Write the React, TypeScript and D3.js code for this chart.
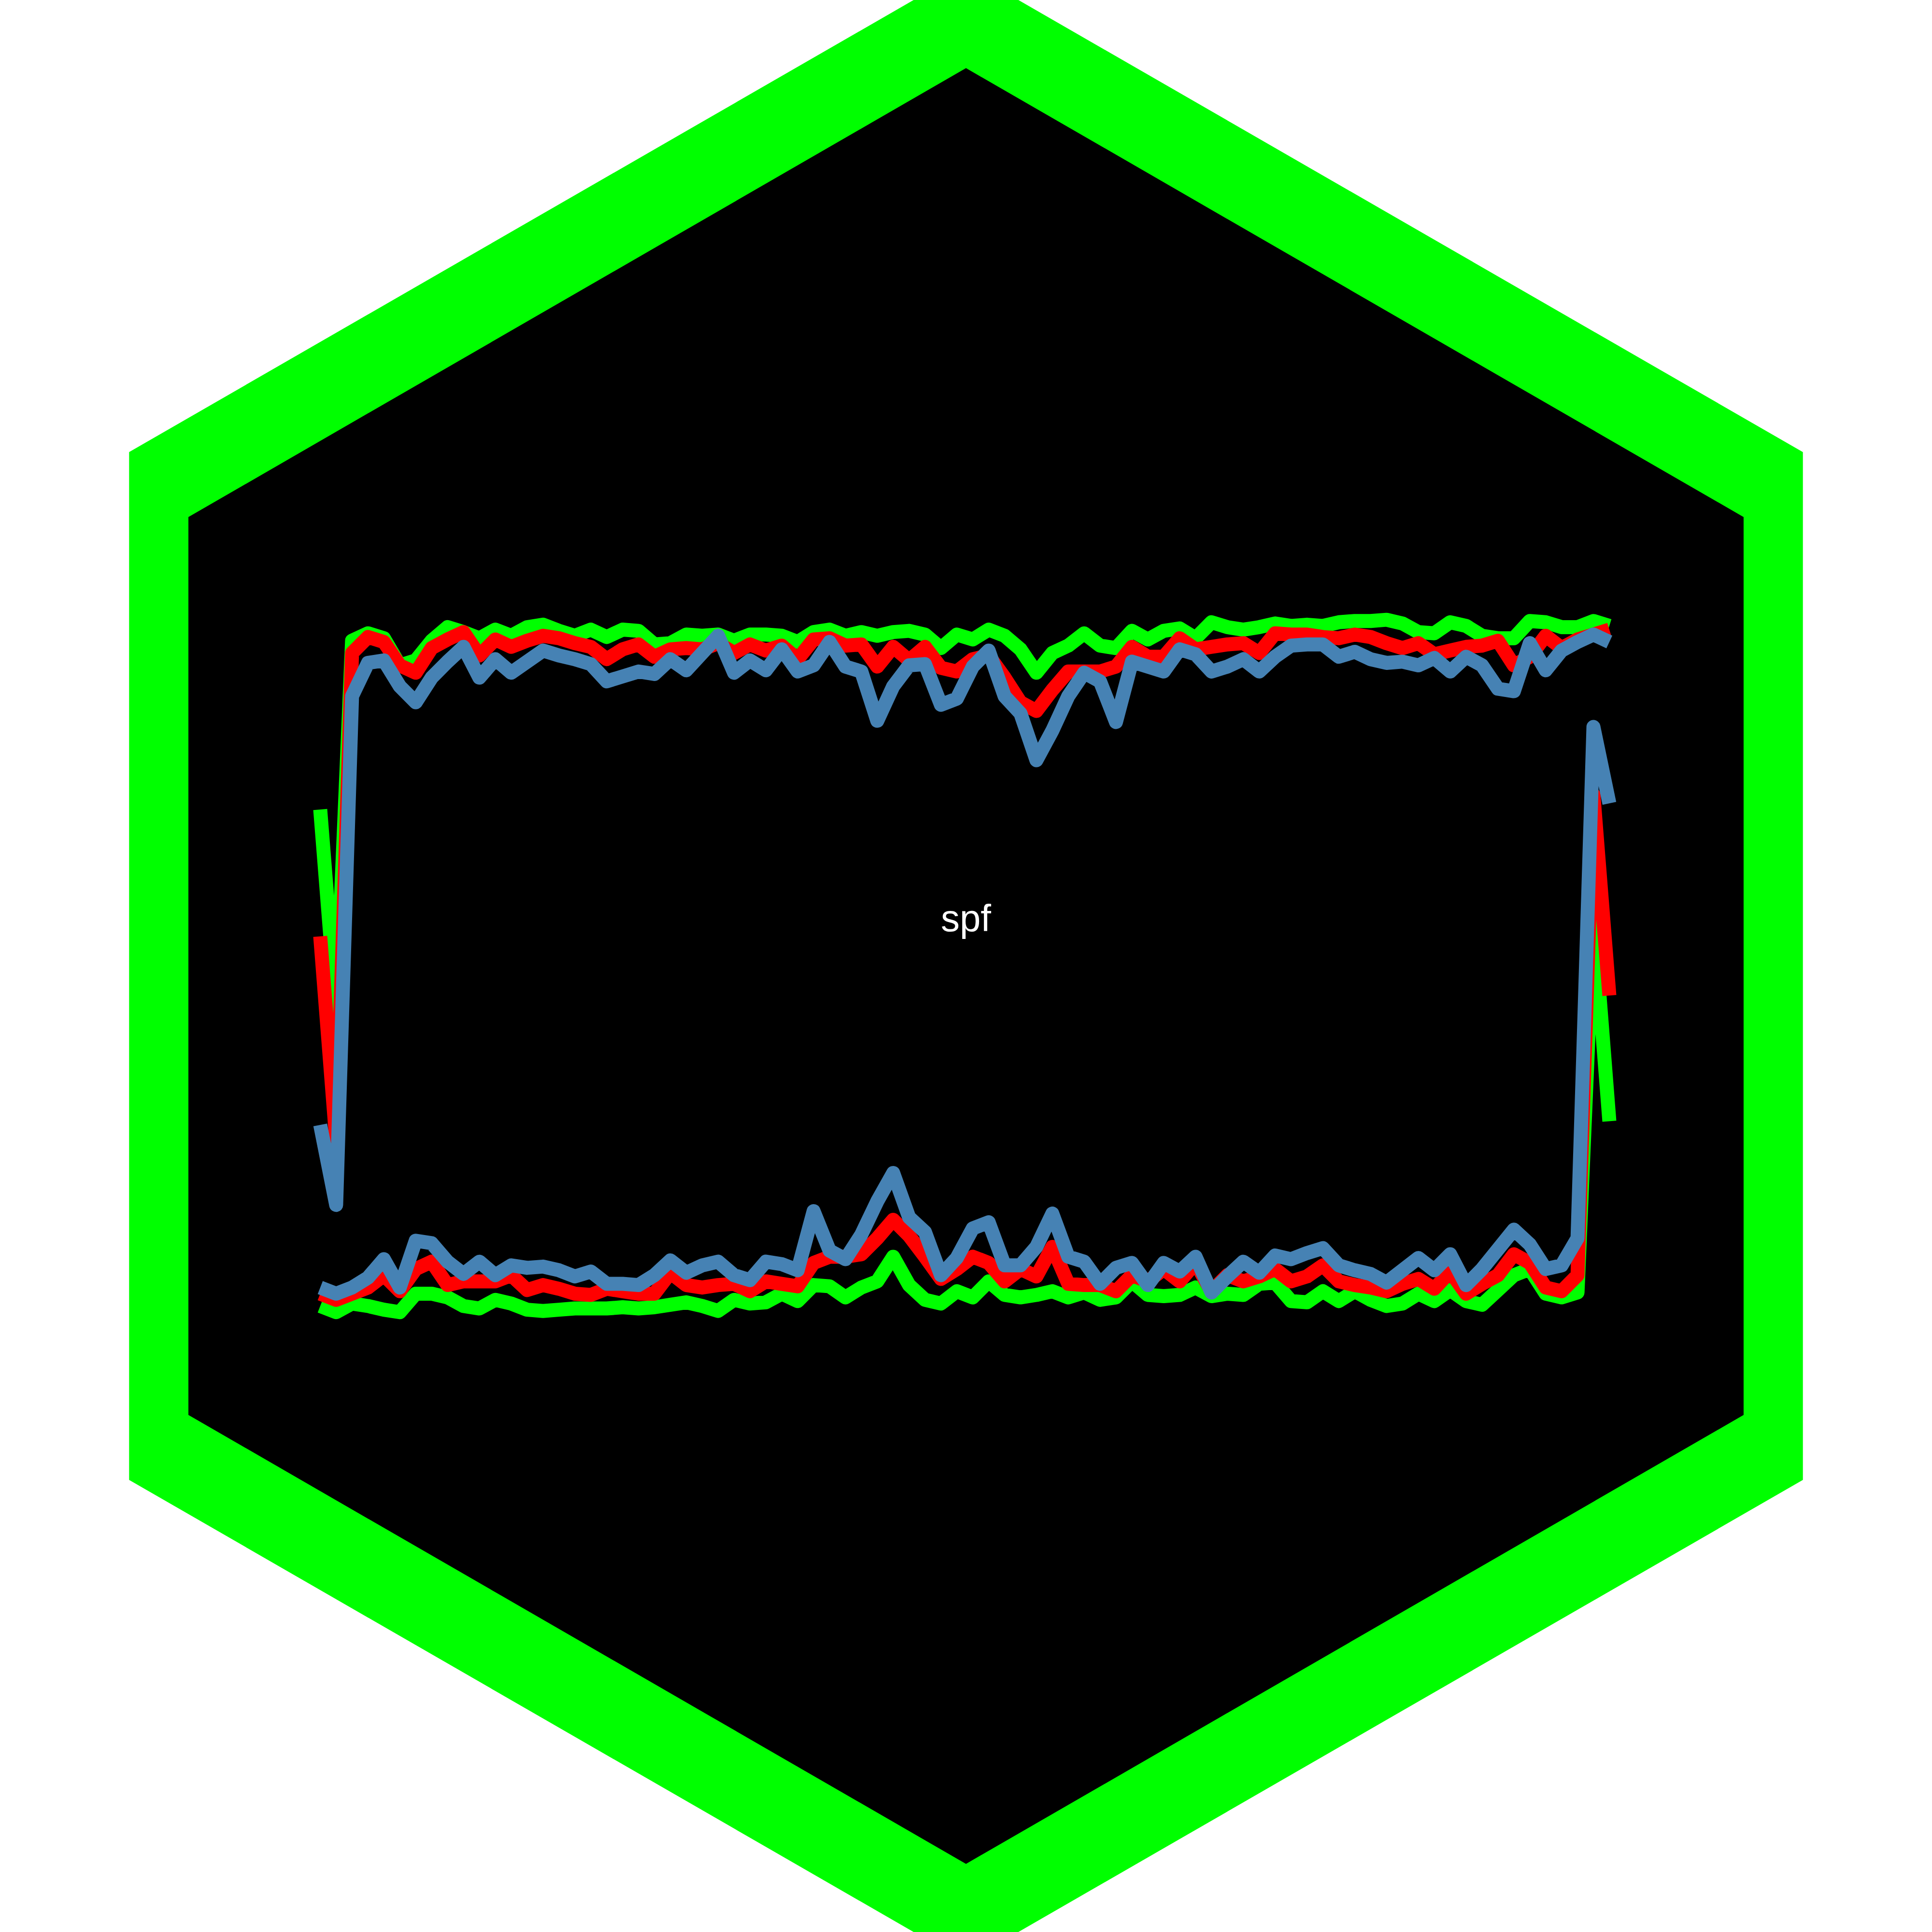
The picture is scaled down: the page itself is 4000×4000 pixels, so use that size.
import React from 'react';
import * as d3 from 'd3';

// Chart values (arbitrary level units, 0 = bottom band, 600 = top band)
const steps = d3.range(82);

const greenUpper = [
  443, 280, 580, 586, 582, 560, 564, 580, 591, 587,
  582, 589, 584, 591, 593, 588, 584, 589, 583, 589,
  588, 577, 578, 585, 584, 585, 580, 585, 585, 584,
  579, 587, 589, 584, 587, 584, 587, 588, 585, 574,
  585, 581, 589, 584, 573, 554, 570, 576, 586, 576,
  574, 588, 581, 588, 590, 582, 595, 591, 589, 591,
  594, 592, 593, 592, 595, 596, 596, 597, 594, 587,
  586, 595, 592, 584, 582, 582, 596, 595, 591, 591,
  596, 592,
];
const greenLower = [
  40, 35, 42, 40, 37, 35, 50, 50, 47, 40,
  38, 45, 42, 37, 36, 37, 38, 38, 38, 39,
  38, 39, 41, 43, 40, 36, 45, 42, 43, 50,
  44, 57, 56, 47, 55, 60, 80, 57, 45, 42,
  52, 47, 60, 49, 47, 49, 52, 47, 51, 45,
  47, 60, 49, 48, 49, 55, 48, 50, 49, 58,
  59, 44, 43, 52, 44, 52, 45, 40, 42, 50,
  44, 53, 44, 41, 53, 65, 70, 50, 47, 51,
  355, 190,
];

const redUpper = [
  340, 175, 570, 583, 579, 560, 554, 574, 581, 587,
  568, 581, 575, 580, 584, 582, 578, 575, 565, 573,
  577, 567, 573, 574, 573, 578, 570, 577, 572, 576,
  565, 581, 582, 576, 577, 559, 575, 564, 575, 558,
  555, 565, 568, 550, 530, 523, 540, 555, 555, 555,
  559, 575, 567, 567, 582, 573, 575, 577, 578, 570,
  586, 585, 585, 583, 582, 585, 583, 578, 574, 578,
  569, 572, 575, 576, 580, 560, 567, 584, 574, 581,
  585, 589,
];
const redLower = [
  50, 45, 50, 55, 65, 52, 70, 76, 57, 60,
  60, 60, 65, 53, 57, 54, 50, 49, 54, 52,
  50, 50, 67, 57, 55, 57, 58, 52, 60, 58,
  56, 75, 80, 80, 82, 95, 110, 97, 80, 62,
  70, 80, 75, 60, 70, 64, 88, 58, 57, 57,
  52, 65, 60, 70, 60, 75, 52, 65, 60, 64,
  70, 60, 64, 73, 60, 57, 55, 52, 58, 62,
  54, 68, 50, 58, 65, 82, 75, 55, 52, 65,
  455, 292,
];

const blueUpper = [
  187, 122, 535, 562, 564, 543, 530, 550, 563, 575,
  550, 565, 554, 563, 572, 568, 565, 561, 547, 551,
  555, 553, 565, 556, 570, 584, 554, 564, 556, 573,
  555, 560, 579, 559, 555, 515, 543, 560, 561, 528,
  533, 559, 572, 535, 521, 483, 507, 535, 554, 547,
  514, 563, 559, 555, 573, 569, 555, 559, 565, 555,
  567, 576, 577, 577, 567, 571, 565, 562, 563, 560,
  566, 555, 567, 560, 541, 539, 578, 556, 572, 579,
  585, 579,
];
const blueLower = [
  55, 50, 55, 63, 78, 55, 93, 91, 76, 66,
  76, 65, 73, 71, 72, 69, 64, 68, 58, 58,
  57, 65, 77, 67, 73, 76, 65, 61, 76, 74,
  69, 117, 85, 78, 98, 125, 148, 112, 100, 65,
  79, 103, 108, 73, 73, 88, 115, 80, 76, 58,
  71, 75, 57, 75, 68, 80, 51, 64, 76, 67,
  81, 78, 83, 87, 73, 69, 66, 59, 69, 79,
  69, 82, 57, 70, 86, 102, 90, 70, 73, 95,
  510, 448,
];

const series = [
  { name: 'green', color: '#00ff00', upper: greenUpper, lower: greenLower },
  { name: 'red', color: '#ff0000', upper: redUpper, lower: redLower },
  { name: 'blue', color: '#4682b4', upper: blueUpper, lower: blueLower },
];

const title = 'spf';

const SIZE = 4000;

// hexagon border: outer shape is a little taller than the regular inner one
const hexPoints = (cx: number, cy: number, halfW: number, tipH: number, sideH: number) =>
  [
    [cx, cy - tipH],
    [cx + halfW, cy - sideH],
    [cx + halfW, cy + sideH],
    [cx, cy + tipH],
    [cx - halfW, cy + sideH],
    [cx - halfW, cy - sideH],
  ]
    .map(p => p.join(','))
    .join(' ');

const App: React.FC = () => {
  const x = d3.scaleLinear().domain([0, 81]).range([663, 3332]);
  const y = d3.scaleLinear().domain([0, 600]).range([2806, 1275.5]);

  const line = d3
    .line<number>()
    .x((d, i) => x(steps[i]))
    .y(d => y(d));

  const rIn = 1859;

  return (
    <svg
      width={SIZE}
      height={SIZE}
      viewBox={`0 0 ${SIZE} ${SIZE}`}
      style={{ position: 'absolute', left: 0, top: 0, background: '#ffffff' }}
    >
      <polygon points={hexPoints(2000, 2000, 1732.7, 2062.5, 1064)} fill="#00ff00" />
      <polygon points={hexPoints(2000, 2000, rIn * Math.cos(Math.PI / 6), rIn, rIn / 2)} fill="#000000" />

      {series.map(s => (
        <g key={s.name} fill="none" stroke={s.color} strokeWidth={29} strokeLinejoin="round" strokeLinecap="butt">
          <path d={line(s.upper) ?? ''} />
          <path d={line(s.lower) ?? ''} />
        </g>
      ))}

      <text
        x={2000}
        y={1928}
        textAnchor="middle"
        fill="#ffffff"
        fontSize={78}
        fontFamily="'Liberation Sans', Arial, Helvetica, sans-serif"
      >
        {title}
      </text>
    </svg>
  );
};

export default App;
